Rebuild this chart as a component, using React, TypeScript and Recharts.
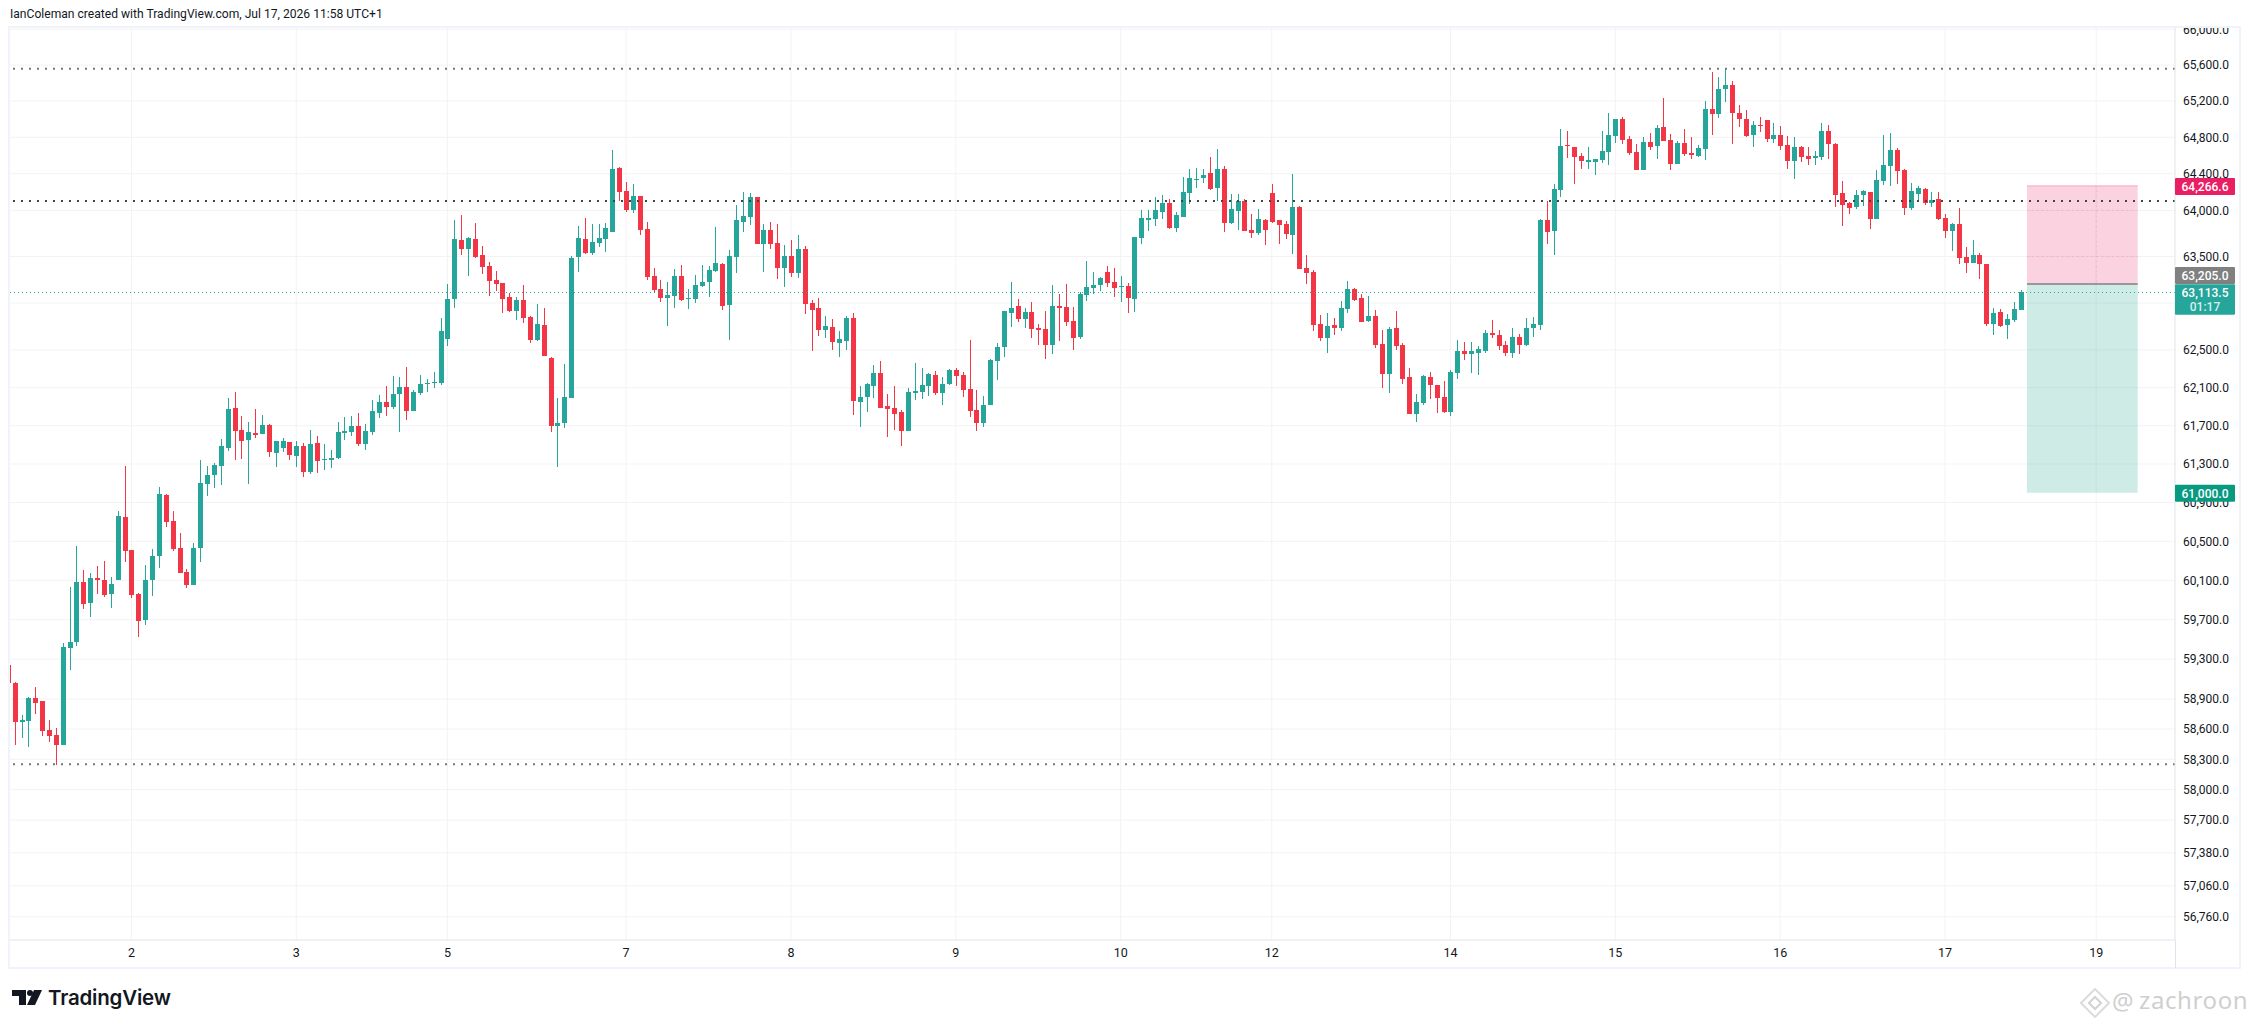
import { Bar, CartesianGrid, ComposedChart, ReferenceArea, ReferenceLine, XAxis, YAxis } from "recharts";

// candle values, first entry is the clipped candle at the left edge
const opens = [59244,
  59065,58674,58684,58907,58876,58594,58543,58443,59417,59469,
  60083,59865,60124,60103,59964,60103,60752,60411,59964,59697,
  60103,60350,60979,60710,60431,60185,60050,60431,61095,61189,
  61283,61472,61890,61651,61546,61620,61609,61703,61412,61472,
  61525,61388,61493,61220,61514,61346,61346,61367,61630,61630,
  61693,61504,61630,61838,61952,61900,62034,62107,61859,62045,
  62139,62150,62150,62620,63046,63678,63580,63688,63514,63397,
  63248,63216,63067,62919,63035,62856,62604,62770,62417,61693,
  61724,61990,63493,63689,63536,63645,63689,63765,64458,64209,
  64004,64155,63797,63291,63153,63057,63078,63291,63046,63046,
  63184,63227,63344,63418,62982,63493,63873,63928,64144,63634,
  63786,63645,63376,63504,63323,63580,63004,62950,62716,62748,
  62578,62600,62844,61949,62001,62114,62255,61908,61888,61847,
  61642,62042,62052,62114,62234,62042,62136,62288,62234,62083,
  61867,61724,61919,62385,62536,62897,62972,62833,62908,62738,
  62727,62557,62972,62961,62812,62642,63089,63163,63195,63333,
  63227,63174,63184,63046,63700,63906,63906,63982,64080,63808,
  63928,64187,64338,64350,64404,64241,64448,63862,63993,64101,
  63786,63753,63895,64187,63895,63852,63732,64036,63376,63333,
  62780,62631,62770,62738,62940,63153,63057,62812,62865,62568,
  62244,62738,62557,62212,61826,61939,62212,62125,62001,61847,
  62255,62493,62460,62471,62493,62684,62663,62557,62471,62642,
  62557,62738,62770,63895,63775,64220,64715,64693,64593,64537,
  64526,64548,64637,64815,65004,64781,64637,64437,64748,64704,
  64915,64770,64504,64737,64626,64593,64670,65115,65059,65337,
  65381,65070,65004,64826,64937,64993,64781,64826,64715,64537,
  64693,64593,64570,64582,64870,64726,64187,64080,64036,64166,
  64198,63906,64317,64482,64659,64437,64025,64176,64231,64080,
  64123,63917,63776,63851,63493,63428,63514,63418,62780,62908,
  62770,62823,62929];

const highs = [59244,
  59075,58745,58917,59016,58876,58694,58613,59459,60034,60452,
  60206,60175,60247,60298,60134,60814,61283,60411,59974,60257,
  60421,61063,60990,60814,60583,60216,60483,61346,61283,61314,
  61556,61993,62054,61797,61735,61879,61817,61714,61535,61567,
  61525,61535,61514,61651,61588,61504,61451,61735,61787,61807,
  61838,61714,61972,62024,62118,62225,62214,62321,62075,62236,
  62193,62268,62845,63206,63895,63949,63710,63862,63612,63440,
  63344,63216,63110,63067,63195,62866,62993,62947,62428,61993,
  62352,63506,63830,63917,63852,63852,63862,64660,64470,64306,
  64285,64155,63873,63376,63248,63227,63365,63408,63153,63305,
  63408,63397,63819,63429,63569,64058,64198,64187,64144,63852,
  63873,63852,63623,63678,63732,63612,63035,63057,62865,62833,
  62705,62865,62897,62114,62147,62342,62385,62032,62114,61867,
  62093,62363,62309,62255,62277,62212,62298,62309,62266,62601,
  62073,62011,62406,62578,62918,63227,63046,62950,63014,62780,
  62918,63195,63100,63205,62961,63121,63450,63333,63280,63397,
  63376,63291,63216,63710,64004,64004,64144,64166,64123,63982,
  64360,64448,64458,64448,64578,64667,64481,64176,64176,64123,
  63957,64014,63906,64285,63895,63884,64393,64047,63515,63354,
  62876,62897,62844,63025,63238,63163,63100,63078,62929,62716,
  62748,62918,62578,62309,62032,62234,62266,62125,62168,62288,
  62601,62579,62589,62546,62716,62823,62716,62600,62738,62674,
  62844,62855,63906,64101,64285,64893,64871,64693,64626,64693,
  64559,64871,65070,65004,65026,64815,64726,64804,64848,64937,
  65237,64837,64759,64893,64804,64715,65204,65526,65470,65559,
  65426,65159,65104,64981,65026,64993,64959,64926,64815,64804,
  64704,64693,64648,64959,64937,64737,64317,64094,64220,64220,
  64198,64437,64826,64848,64681,64448,64296,64263,64241,64198,
  64198,63960,63862,64025,63601,63677,63536,63418,62950,62940,
  62886,63014,63142];

const lows = [59062,
  58443,58513,58424,58755,58534,58473,58244,58443,59194,59438,
  59805,59726,59964,59934,59815,60103,60288,59924,59521,59645,
  59944,60226,60648,60401,60175,60020,60050,60288,60970,61053,
  61084,61440,61346,61356,61095,61567,61609,61370,61272,61430,
  61346,61272,61168,61199,61210,61234,61262,61356,61546,61588,
  61483,61451,61598,61776,61797,61879,61630,61765,61859,62024,
  62055,62096,62128,62546,62951,63514,63291,63482,63312,63078,
  63131,62898,62909,62824,62782,62569,62590,62439,61631,61272,
  61673,61990,63333,63525,63514,63601,63547,63765,64101,63982,
  63971,63732,63248,63110,63014,62759,62950,63025,62940,63004,
  63174,63067,63333,62929,62610,63323,63765,63841,63634,63333,
  63580,63259,63174,63280,63270,62886,62493,62653,62631,62504,
  62428,62504,61816,61683,61847,61990,61888,61580,61652,61488,
  61642,61970,61980,62011,62021,61919,62125,62114,62001,61796,
  61642,61683,61919,62180,62428,62748,62801,62738,62631,62557,
  62406,62460,62600,62759,62504,62621,63025,63100,63131,63174,
  63067,63014,62897,62908,63634,63776,63830,63906,63797,63765,
  63928,64069,64241,64296,64220,64101,63765,63852,63786,63775,
  63700,63732,63623,63862,63634,63689,63525,63365,63205,62706,
  62600,62471,62663,62706,62897,63025,62801,62801,62525,62093,
  62040,62504,62136,61826,61744,61919,61980,61836,61836,61806,
  62190,62396,62255,62234,62471,62631,62504,62439,62417,62460,
  62546,62642,62716,63634,63515,64144,64567,64285,64448,64448,
  64382,64515,64493,64737,64726,64604,64437,64437,64659,64559,
  64759,64437,64504,64593,64559,64582,64548,64826,65015,65193,
  64726,64915,64804,64693,64859,64748,64737,64659,64448,64337,
  64526,64493,64493,64548,64559,64036,63830,63960,64014,64047,
  63797,63906,64274,64263,64285,63949,64004,64101,64057,64036,
  63895,63700,63558,63418,63320,63428,63259,62759,62663,62748,
  62620,62801,62929];

const closes = [59062,
  58667,58694,58907,58856,58577,58534,58443,59428,59469,60083,
  59855,60124,60103,59954,60064,60762,60401,59954,59686,60103,
  60350,60990,60700,60421,60175,60050,60431,61105,61189,61293,
  61483,61879,61640,61535,61630,61609,61703,61423,61535,61535,
  61398,61493,61220,61504,61335,61356,61367,61630,61640,61693,
  61504,61640,61855,61952,61900,62034,62107,61859,62055,62139,
  62150,62161,62697,63046,63688,63580,63699,63493,63386,63237,
  63206,63046,62919,63035,62845,62604,62771,62439,61693,61724,
  62001,63482,63700,63536,63656,63700,63808,64448,64198,64004,
  64155,63786,63280,63142,63057,63089,63291,63035,63057,63195,
  63227,63354,63429,62972,63504,63895,63939,64144,63634,63786,
  63634,63376,63504,63323,63580,62993,62929,62716,62759,62589,
  62621,62844,61960,62001,62136,62255,61888,61878,61826,61642,
  62052,62061,62125,62244,62042,62136,62288,62223,62073,61857,
  61724,61919,62396,62536,62918,62950,62833,62908,62727,62716,
  62557,62972,62950,62801,62631,63100,63174,63195,63270,63216,
  63163,63184,63057,63710,63917,63913,64004,64080,63808,63949,
  64198,64350,64346,64382,64231,64448,63862,64014,64101,63775,
  63753,63906,63786,63873,63841,63743,64036,63365,63323,62770,
  62631,62759,62738,62950,63153,63035,62801,62865,62557,62244,
  62727,62546,62190,61826,61949,62223,62125,61990,61847,62266,
  62493,62460,62493,62514,62684,62663,62546,62471,62642,62557,
  62738,62780,63895,63765,64231,64704,64704,64578,64537,64548,
  64559,64648,64826,65004,64770,64626,64437,64748,64693,64904,
  64759,64504,64737,64615,64615,64681,65115,65059,65337,65381,
  65070,65004,64815,64937,64926,64781,64826,64704,64537,64693,
  64582,64559,64593,64870,64726,64166,64057,64025,64166,64209,
  63906,64328,64493,64659,64426,64025,64209,64241,64080,64112,
  63906,63776,63851,63482,63428,63514,63418,62780,62897,62759,
  62833,62940,63121];

const priceTicks = [66000, 65600, 65200, 64800, 64400, 64000, 63500, 63000, 62500, 62100, 61700, 61300, 60900, 60500, 60100, 59700, 59300, 58900, 58600, 58300, 58000, 57700, 57380, 57060, 56760];
const dayTicks = [17, 41, 63, 89, 113, 137, 161, 183, 209, 233, 257, 281, 303];
const dayLabels = ["2", "3", "5", "7", "8", "9", "10", "12", "14", "15", "16", "17", "19"];

const levelHigh = 65558;
const levelMid = 64103;
const levelLow = 58250;
const lastPrice = 63113.5;
const stopPrice = 64266.6;
const entryPrice = 63205;
const targetPrice = 61000;
const positionStart = 292.93;
const positionEnd = 309.04;

const barDomain = [-0.67, 314.47];
const priceDomain = [56536.6, 66014.6];

const candles = opens.map((open, i) => ({
  bar: i - 1,
  open,
  high: highs[i],
  low: lows[i],
  close: closes[i],
  range: [lows[i], highs[i]],
}));

const UP = "#26a69a";
const DOWN = "#f23645";
const FONT = "Roboto, sans-serif";

// body position comes from the wick box: the price scale is logarithmic
function Candle(props: any) {
  const { x, y, width, height, payload } = props;
  const { open, high, low, close } = payload;
  const span = Math.log(high / low) || 1;
  const at = (p: number) => y + (height * Math.log(high / p)) / span;
  const top = at(Math.max(open, close));
  const bottom = at(Math.min(open, close));
  const color = close >= open ? UP : DOWN;
  const mid = Math.round(x + width / 2);
  return (
    <g shapeRendering="crispEdges">
      <rect x={mid} y={y} width={1} height={Math.max(height, 1)} fill={color} />
      <rect x={mid - 2} y={top} width={5} height={Math.max(bottom - top, 1.5)} fill={color} />
    </g>
  );
}

function PriceTag({ viewBox, text, sub, fill, dy, h }: any) {
  const left = viewBox.x + viewBox.width;
  const top = viewBox.y + dy;
  return (
    <g fontFamily={FONT} fontSize={12} textAnchor="middle" fontWeight={500}>
      <rect x={left} y={top} width={60} height={h} fill={fill} rx={1} />
      <text x={left + 30} y={top + 13} fill="#ffffff">{text}</text>
      {sub ? <text x={left + 30} y={top + 27} fill="#d6efec">{sub}</text> : null}
    </g>
  );
}

function Logo() {
  return (
    <svg width={32} height={16} viewBox="0 0 32 16" style={{ position: "absolute", left: 12, top: 990 }}>
      <path d="M0 0H14V15H7V6H0Z" fill="#131722" />
      <circle cx={18} cy={3} r={3} fill="#131722" />
      <path d="M22 0H30L23 15H15Z" fill="#131722" />
    </svg>
  );
}

function Watermark() {
  return (
    <div style={{ position: "absolute", left: 2080, top: 986, width: 166, height: 32, color: "#cfcfcf", fontFamily: "'Noto Sans', sans-serif" }}>
      <svg width={30} height={30} viewBox="0 0 30 30" style={{ position: "absolute", left: 0, top: 2 }}>
        <path d="M15 1L29 15L15 29L1 15Z" fill="none" stroke="#dcdcdc" strokeWidth={2} />
        <path d="M15 9L21 15L15 21L9 15Z" fill="none" stroke="#d2d2d2" strokeWidth={2} />
      </svg>
      <span style={{ position: "absolute", left: 32, top: -2, fontSize: 24 }}>@</span>
      <span style={{ position: "absolute", left: 59, top: -3, fontSize: 24, letterSpacing: 0.6, whiteSpace: "nowrap" }}>zachroon</span>
    </div>
  );
}

export default function App() {
  return (
    <div style={{ position: "absolute", left: 0, top: 0, width: 2250, height: 1028, background: "#fff", overflow: "hidden" }}>
      <ComposedChart width={2250} height={1028} data={candles} margin={{ top: 28, right: 10, bottom: 60, left: 10 }}>
        <CartesianGrid stroke="#f2f3f5" horizontalValues={priceTicks} verticalValues={dayTicks} />
        <XAxis
          dataKey="bar"
          type="number"
          scale="linear"
          domain={barDomain}
          allowDataOverflow
          ticks={dayTicks}
          tickFormatter={(v: number) => dayLabels[dayTicks.indexOf(v)]}
          height={28}
          tickSize={0}
          tickMargin={8}
          interval={0}
          stroke="#e0e3eb"
          tick={{ fill: "#131722", fontSize: 12.5, fontFamily: FONT }}
        />
        <YAxis
          orientation="right"
          type="number"
          scale="log"
          domain={priceDomain}
          allowDataOverflow
          ticks={priceTicks}
          interval={0}
          width={65}
          tickSize={0}
          tickMargin={8}
          stroke="#e0e3eb"
          tickFormatter={(v: number) => v.toLocaleString("en-US", { minimumFractionDigits: 1 })}
          tick={{ fill: "#131722", fontSize: 12, fontFamily: FONT }}
        />
        <ReferenceArea x1={positionStart} x2={positionEnd} y1={entryPrice} y2={stopPrice} fill="#e91e63" fillOpacity={0.2} stroke="none" />
        <ReferenceArea x1={positionStart} x2={positionEnd} y1={targetPrice} y2={entryPrice} fill="#089981" fillOpacity={0.2} stroke="none" />
        <ReferenceLine segment={[{ x: positionStart, y: stopPrice }, { x: positionEnd, y: stopPrice }]} stroke="#f8a5c2" />
        <ReferenceLine segment={[{ x: positionStart, y: 64000 }, { x: positionEnd, y: 64000 }]} stroke="#f8a5c2" strokeDasharray="1 4" />
        <ReferenceLine segment={[{ x: positionStart, y: 63500 }, { x: positionEnd, y: 63500 }]} stroke="#f8a5c2" strokeDasharray="1 4" />
        <ReferenceLine segment={[{ x: 303, y: stopPrice }, { x: 303, y: entryPrice }]} stroke="#f8a5c2" strokeDasharray="1 4" />
        <ReferenceLine y={levelHigh} stroke="#787878" strokeWidth={2} strokeDasharray="2 6" />
        <ReferenceLine y={levelMid} stroke="#434343" strokeWidth={2} strokeDasharray="2 6" />
        <ReferenceLine y={levelLow} stroke="#787878" strokeWidth={2} strokeDasharray="2 6" />
        <ReferenceLine y={lastPrice} stroke={UP} strokeDasharray="1 3" />
        <ReferenceLine segment={[{ x: positionStart, y: entryPrice }, { x: positionEnd, y: entryPrice }]} stroke="#808080" strokeWidth={1.5} />
        <Bar dataKey="range" barSize={5} shape={<Candle />} isAnimationActive={false} />
      </ComposedChart>

      {/* title strip hides the clipped top of the 66,000 tick */}
      <div style={{ position: "absolute", left: 0, top: 0, width: 2250, height: 28, background: "#fff" }}>
        <span style={{ position: "absolute", left: 10, top: 7, fontFamily: FONT, fontSize: 12.1, color: "#131722", whiteSpace: "nowrap" }}>
          IanColeman created with TradingView.com, Jul 17, 2026 11:58 UTC+1
        </span>
      </div>
      <div style={{ position: "absolute", left: 8, top: 26, width: 2233, height: 943, boxSizing: "border-box", border: "2px solid #f0f3fa" }} />
      <div style={{ position: "absolute", left: 2175, top: 940, width: 1, height: 28, background: "#e0e3eb" }} />

      {/* price tags sit over the axis labels, so they get their own chart on top with the same scales */}
      <div style={{ position: "absolute", left: 0, top: 0 }}>
        <ComposedChart width={2250} height={1028} data={candles} margin={{ top: 28, right: 75, bottom: 88, left: 10 }}>
          <XAxis dataKey="bar" type="number" domain={barDomain} allowDataOverflow hide />
          <YAxis type="number" scale="log" domain={priceDomain} allowDataOverflow hide />
          <ReferenceLine y={lastPrice} stroke="none" label={<PriceTag text="63,113.5" sub="01:17" fill={UP} dy={-8.3} h={30.7} />} />
          <ReferenceLine y={entryPrice} stroke="none" label={<PriceTag text="63,205.0" fill="#808080" dy={-17} h={17} />} />
          <ReferenceLine y={stopPrice} stroke="none" label={<PriceTag text="64,266.6" fill="#e91e63" dy={-8} h={17} />} />
          <ReferenceLine y={targetPrice} stroke="none" label={<PriceTag text="61,000.0" fill="#089981" dy={-8} h={17} />} />
        </ComposedChart>
      </div>

      <Logo />
      <span style={{ position: "absolute", left: 48, top: 985, fontFamily: "Inter, sans-serif", fontWeight: 600, fontSize: 20.5, letterSpacing: -0.2, color: "#131722" }}>
        TradingView
      </span>
      <Watermark />
    </div>
  );
}
